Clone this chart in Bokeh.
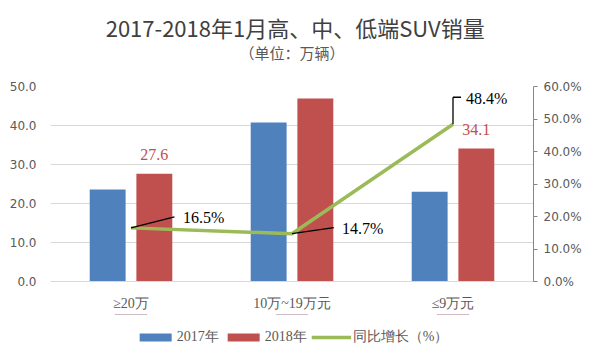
from bokeh.plotting import figure
from bokeh.layouts import column
from bokeh.models import (Range1d, LinearAxis, FactorRange, ColumnDataSource, Legend,
                          LegendItem, Label, SingleIntervalTicker, NumeralTickFormatter,
                          PrintfTickFormatter)
from bokeh.transform import dodge
from bokeh.core.properties import value
from bokeh.embed import file_html
from bokeh.resources import INLINE

# ---- data ----
categories = ["≥20万", "10万~19万元", "≤9万元"]
sales_2017 = [23.6, 40.8, 23.0]
sales_2018 = [27.6, 46.9, 34.1]
yoy_growth = [16.5, 14.7, 48.4]
series_names = ["2017年", "2018年", "同比增长（%）"]
title_text = "2017-2018年1月高、中、低端SUV销量"
subtitle_text = "（单位：万辆）"

# ---- styles ----
BLUE = "#4F81BD"
RED = "#C0504D"
GREEN = "#9BBB59"
GRID = "#D9D9D9"
TICK = "#595959"
SERIF = "Liberation Serif"
SANS = "DejaVu Sans"
CJK = "Noto Sans CJK SC"

# label placement (styles): pixel offsets of growth labels, leader-line offsets
pct_label_dx = [52, 50, 13]
pct_label_dy = [-10, -5, -26]
leader_dx = [0.27, 0.26, 0.0]
leader_dy = [3.4, 1.85, 8.3]


def bare(fig):
    fig.outline_line_color = None
    fig.background_fill_color = "white"
    fig.border_fill_color = "white"
    fig.xgrid.visible = False
    fig.ygrid.visible = False
    return fig


# ---- header (title + subtitle) ----
W = 600
header = bare(figure(width=W, height=70, x_range=Range1d(0, W), y_range=Range1d(70, 0),
                     min_border=0, x_axis_location=None, y_axis_location=None,
                     output_backend="svg", toolbar_location=None))
header.add_layout(Label(x=304, y=26.5, text=title_text, text_align="center",
                        text_baseline="middle", text_font=CJK, text_font_size="22px",
                        text_color="#404040"))
header.add_layout(Label(x=300, y=51.5, text=subtitle_text, text_align="center",
                        text_baseline="middle", text_font=CJK, text_font_size="15px",
                        text_color="#595959"))

# ---- main chart ----
src = ColumnDataSource(dict(
    cat=categories, s17=sales_2017, s18=sales_2018, g=yoy_growth,
    s18_txt=[f"{v:.1f}" for v in sales_2018],
    g_txt=[f"{v:.1f}%" for v in yoy_growth],
    g_dx=pct_label_dx, g_dy=pct_label_dy,
))

p = figure(x_range=FactorRange(*categories), y_range=Range1d(0, 50),
           width=W, height=244, output_backend="svg", toolbar_location=None,
           min_border_left=50, min_border_right=67, min_border_top=16, min_border_bottom=33)
p.extra_y_ranges = {"pct": Range1d(0, 60)}
p.outline_line_color = None
p.background_fill_color = "white"
p.border_fill_color = "white"

b17 = p.vbar(x=dodge("cat", -0.145, range=p.x_range), top="s17", width=0.223,
             source=src, fill_color=BLUE, line_color=None)
b18 = p.vbar(x=dodge("cat", 0.145, range=p.x_range), top="s18", width=0.223,
             source=src, fill_color=RED, line_color=None)
ln = p.line(x="cat", y="g", source=src, y_range_name="pct", line_color=GREEN,
            line_width=3.5)

# 2018 value labels
p.text(x=dodge("cat", 0.145, range=p.x_range), y="s18", text="s18_txt", source=src,
       text_align="center", text_baseline="middle", y_offset=-19,
       text_font=value(SERIF), text_font_size="16px", text_color=RED)

# growth leader lines
lead_src = ColumnDataSource(dict(
    x0=[(c, 0.0) for c in categories] + [(categories[2], 0.0)],
    y0=yoy_growth + [yoy_growth[2] + leader_dy[2]],
    x1=[(c, d) for c, d in zip(categories, leader_dx)] + [(categories[2], 0.05)],
    y1=[g + d for g, d in zip(yoy_growth, leader_dy)] + [yoy_growth[2] + leader_dy[2]],
))
p.segment(x0="x0", y0="y0", x1="x1", y1="y1", source=lead_src, y_range_name="pct",
          line_color="black", line_width=1.3)

# growth labels
p.text(x="cat", y="g", text="g_txt", source=src, y_range_name="pct",
       x_offset="g_dx", y_offset="g_dy", text_align="left", text_baseline="middle",
       text_font=value(SERIF), text_font_size="16px", text_color="black")

ya = p.yaxis[0]
ya.ticker = SingleIntervalTicker(interval=10)
ya.formatter = NumeralTickFormatter(format="0.0")
ya.axis_line_color = None
ya.major_tick_line_color = None
ya.minor_tick_line_color = None
ya.major_tick_out = 0
ya.major_label_standoff = 10
ya.major_label_text_font = SANS
ya.major_label_text_font_size = "12px"
ya.major_label_text_color = TICK

ra = LinearAxis(y_range_name="pct", ticker=SingleIntervalTicker(interval=10),
                formatter=PrintfTickFormatter(format="%.1f%%"))
ra.axis_line_color = "#868686"
ra.major_tick_line_color = "#868686"
ra.minor_tick_line_color = None
ra.major_tick_in = 0
ra.major_tick_out = 4
ra.major_label_standoff = 6
ra.major_label_text_font = SANS
ra.major_label_text_font_size = "12px"
ra.major_label_text_color = TICK
p.add_layout(ra, "right")

xa = p.xaxis[0]
xa.axis_line_color = GRID
xa.major_tick_line_color = None
xa.minor_tick_line_color = None
xa.major_tick_out = 0
xa.major_label_standoff = 14
xa.major_label_text_font = SERIF
xa.major_label_text_font_size = "14px"
xa.major_label_text_color = TICK

p.xgrid.grid_line_color = None
p.ygrid.grid_line_color = GRID
p.ygrid.ticker = ya.ticker

# ---- legend strip (key renderers use the same data, kept outside the strip's view) ----
lg = bare(figure(width=W, height=46, x_range=FactorRange(*categories),
                 y_range=Range1d(-2, -1), min_border=0,
                 x_axis_location=None, y_axis_location=None,
                 output_backend="svg", toolbar_location=None))
k17 = lg.vbar(x="cat", top="s17", width=0.2, source=src, fill_color=BLUE, line_color=None)
k18 = lg.vbar(x="cat", top="s18", width=0.2, source=src, fill_color=RED, line_color=None)
kln = lg.line(x="cat", y="g", source=src, line_color=GREEN, line_width=3.5)
legend = Legend(items=[LegendItem(label=series_names[0], renderers=[k17]),
                       LegendItem(label=series_names[1], renderers=[k18]),
                       LegendItem(label=series_names[2], renderers=[kln])],
                orientation="horizontal", location="center",
                glyph_width=40, glyph_height=10, label_standoff=2, spacing=4,
                padding=0, margin=0, border_line_color=None, background_fill_alpha=0,
                label_text_font=SERIF, label_text_font_size="14px",
                label_text_color=TICK)
lg.add_layout(legend, "center")

layout = column(header, p, lg, spacing=0)
open("out.html", "w").write(file_html(layout, INLINE))
